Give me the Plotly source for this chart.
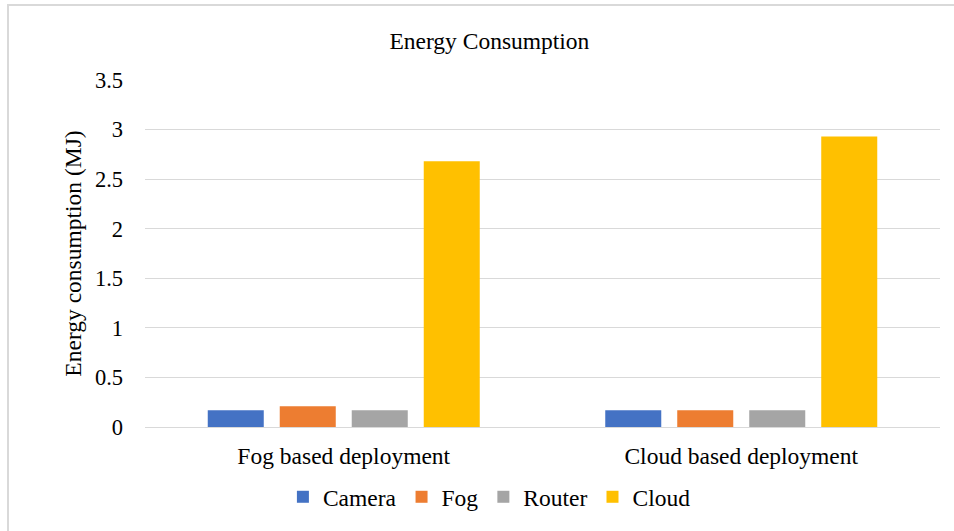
import plotly.graph_objects as go

# Deployment scenarios and per-component energy use (MJ)
categories = ["Fog based deployment", "Cloud based deployment"]
series_names = ["Camera", "Fog", "Router", "Cloud"]
camera = [0.17, 0.17]
fog = [0.21, 0.17]
router = [0.17, 0.17]
cloud = [2.68, 2.93]
series_values = [camera, fog, router, cloud]
colors = ["#4472C4", "#ED7D31", "#A5A5A5", "#FFC000"]
y_ticks = [0, 0.5, 1, 1.5, 2, 2.5, 3, 3.5]

W, H = 954, 531
ML, MR, MT, MB = 145, 14, 80, 104
FONT = "'Liberation Serif', 'Times New Roman', Times, serif"
FS = 23.5
TICK_FS = 22.5

fig = go.Figure()
for name, vals, col in zip(series_names, series_values, colors):
    fig.add_trace(go.Bar(name=name, x=categories, y=vals,
                         marker=dict(color=col, line=dict(width=0))))

pw = W - ML - MR
ph = H - MT - MB

fig.update_layout(
    width=W, height=H,
    margin=dict(l=ML, r=MR, t=MT, b=MB, autoexpand=False),
    paper_bgcolor="white", plot_bgcolor="white",
    font=dict(family=FONT, size=FS, color="black"),
    barmode="group", bargap=0.2755, bargroupgap=0.222,
    title=dict(text="Energy Consumption", x=0.513, xref="container", xanchor="center",
               y=1 - 41 / H, yref="container", yanchor="middle",
               font=dict(family=FONT, size=FS, color="black")),
    legend=dict(orientation="h", x=0.513, xref="container", xanchor="center",
                y=1 - 497 / H, yref="container", yanchor="middle",
                font=dict(family=FONT, size=FS, color="black"),
                itemwidth=30, traceorder="normal"),
    xaxis=dict(showline=True, linecolor="#d9d9d9", linewidth=1, ticks="",
               ticklabelstandoff=8, showgrid=False, automargin=False,
               tickfont=dict(family=FONT, size=FS, color="black")),
    yaxis=dict(range=[0, 3.5], tickvals=y_ticks, showgrid=True, gridcolor="#d9d9d9",
               gridwidth=1, zeroline=True, zerolinecolor="#d9d9d9", zerolinewidth=1,
               ticks="", ticklabelstandoff=21, showline=False, automargin=False,
               tickfont=dict(family=FONT, size=TICK_FS, color="black"),
               title=dict(text="Energy consumption (MJ)", standoff=6,
                          font=dict(family=FONT, size=FS, color="black"))),
    shapes=[dict(type="rect", xref="paper", yref="paper",
                 x0=(8 - ML) / pw, x1=1 + (W + 20 - (W - MR)) / pw,
                 y0=-(H + 20 - (H - MB)) / ph, y1=1 + (MT - 5) / ph,
                 line=dict(color="#d9d9d9", width=2), layer="below")],
)

fig.write_html("out.html")
